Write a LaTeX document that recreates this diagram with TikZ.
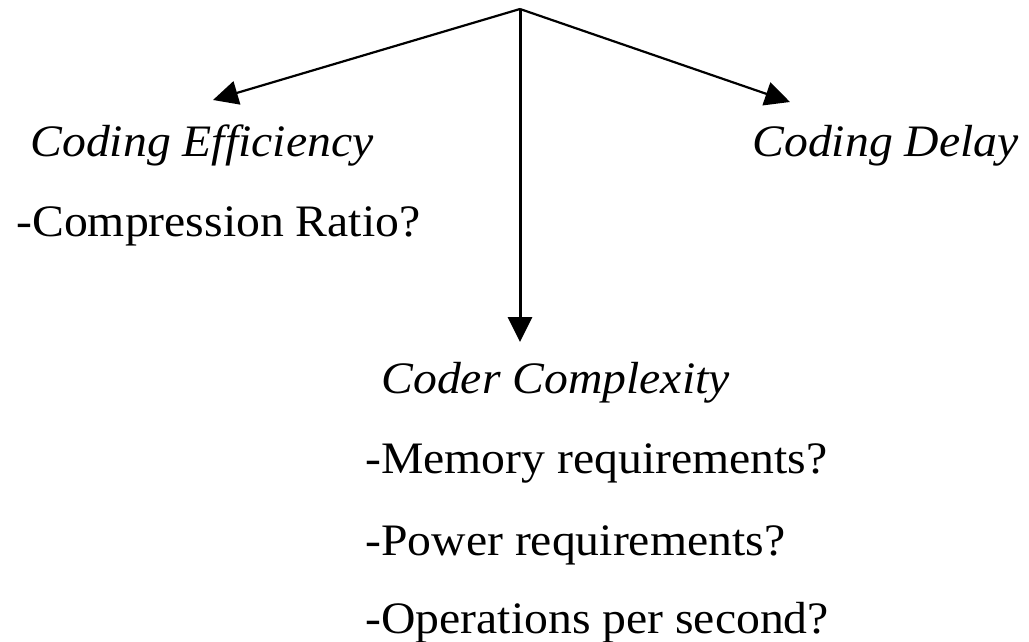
\documentclass[tikz,border=0pt]{standalone}
\usepackage{fontspec}
\setmainfont{Liberation Serif}[FakeStretch=1.06]
\usetikzlibrary{arrows.meta}

\tikzset{
	txt/.style={anchor=base west, inner sep=0pt, font=\fontsize{22.5}{27}\selectfont},
	head/.style={txt, font=\fontsize{22.5}{27}\selectfont\itshape},
	link/.style={line width=1.1pt, -{Triangle[length=12.5pt,width=12pt]}}
}

\begin{document}
\begin{tikzpicture}[x=0.5pt,y=-0.5pt]
	\useasboundingbox (0,0) rectangle (1029,642);
	% common origin and arrow tips
	\coordinate (top)	at (520, 9);
	\coordinate (tipe)	at (213, 100);
	\coordinate (tipc)	at (520, 342);
	\coordinate (tipd)	at (790, 102);
	% criteria
	\node[head] (eff)	at ( 30, 157)	{Coding Efficiency};
	\node[txt]  (ratio)	at ( 16, 236)	{-Compression Ratio?};
	\node[head] (delay)	at (752, 157)	{Coding Delay};
	\node[head] (cplx)	at (381, 393)	{Coder Complexity};
	\node[txt]  (mem)	at (365, 473)	{-Memory requirements?};
	\node[txt]  (pow)	at (365, 555)	{-Power requirements?};
	\node[txt]  (ops)	at (365, 633)	{-Operations per second?};
	\draw[link] (top) -- (tipe);
	\draw[link, line width=1.5pt] (top) -- (tipc);
	\draw[link] (top) -- (tipd);
\end{tikzpicture}
\end{document}
